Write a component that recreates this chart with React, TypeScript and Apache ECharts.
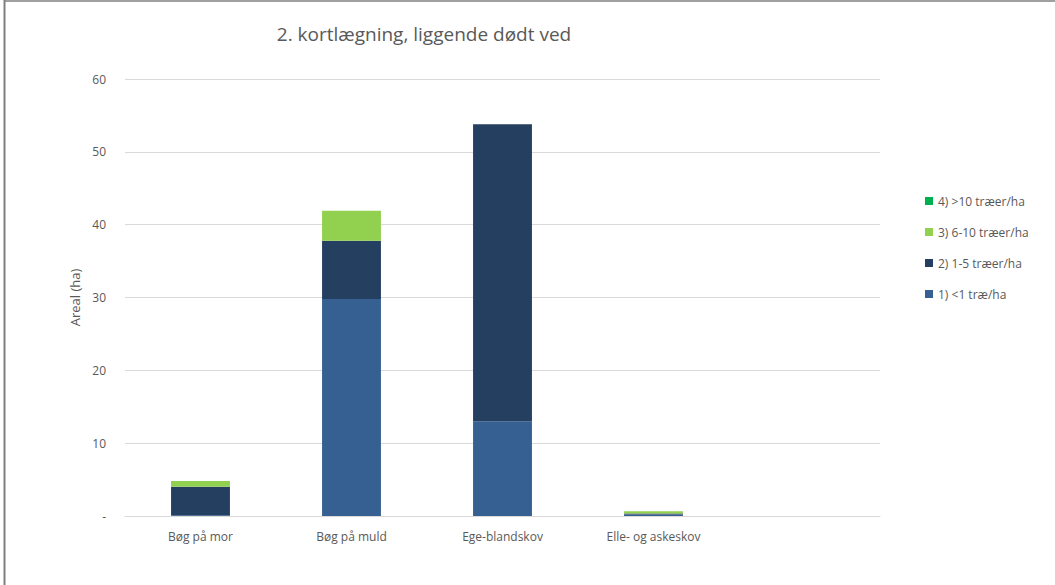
import React, { useEffect, useRef } from "react";
import * as echarts from "echarts";

const categories = ["Bøg på mor", "Bøg på muld", "Ege-blandskov", "Elle- og askeskov", ""];
const seriesNames = ["1) <1 træ/ha", "2) 1-5 træer/ha", "3) 6-10 træer/ha", "4) >10 træer/ha"];
const s1 = [0.1, 29.8, 13.0, 0.2, 0];
const s2 = [3.9, 8.0, 40.8, 0.15, 0];
const s3 = [0.8, 4.1, 0, 0.3, 0];
const s4 = [0, 0, 0, 0, 0];
const yTicks = [0, 10, 20, 30, 40, 50, 60];
const colors = ["#376092", "#243f60", "#92d050", "#00b050"];

export default function App() {
  const ref = useRef<HTMLDivElement>(null);
  useEffect(() => {
    const chart = echarts.init(ref.current!, null, { renderer: "svg" });
    const values = [s1, s2, s3, s4];
    chart.setOption({
      animation: false,
      backgroundColor: "#ffffff",
      textStyle: { fontFamily: "Open Sans" },
      title: {
        text: "2. kortlægning, liggende dødt ved",
        left: 419,
        top: 19,
        textAlign: "center",
        textStyle: { fontSize: 19, fontWeight: "normal", color: "#595959", fontFamily: "Open Sans" },
      },
      graphic: [
        { type: "line", shape: { x1: 4.5, y1: 0, x2: 4.5, y2: 585 }, style: { stroke: "#808080", lineWidth: 2 } },
        { type: "line", shape: { x1: 4, y1: 1, x2: 1055, y2: 1 }, style: { stroke: "#808080", lineWidth: 1.5 } },
      ],
      legend: {
        orient: "vertical",
        left: 920,
        top: 190,
        itemGap: 19,
        itemWidth: 8,
        itemHeight: 8,
        icon: "rect",
        data: [seriesNames[3], seriesNames[2], seriesNames[1], seriesNames[0]],
        textStyle: { fontSize: 12, color: "#595959", fontFamily: "Open Sans" },
      },
      grid: { left: 125, right: 175, top: 79, bottom: 69, containLabel: false },
      xAxis: {
        type: "category",
        data: categories,
        axisLine: { lineStyle: { color: "#d9d9d9" } },
        axisTick: { show: false },
        axisLabel: { color: "#595959", fontSize: 12, margin: 14 },
      },
      yAxis: {
        type: "value",
        min: yTicks[0],
        max: yTicks[yTicks.length - 1],
        interval: 10,
        name: "Areal (ha)",
        nameLocation: "middle",
        nameGap: 30,
        nameTextStyle: { color: "#595959", fontSize: 13 },
        axisLine: { show: false },
        axisTick: { show: false },
        splitLine: { lineStyle: { color: "#d9d9d9" } },
        axisLabel: {
          color: "#595959",
          fontSize: 12,
          margin: 19,
          formatter: (v: number) => (v === 0 ? "-" : String(v)),
        },
      },
      series: seriesNames.map((name, i) => ({
        name,
        type: "bar",
        stack: "total",
        barWidth: "39%",
        data: values[i],
        itemStyle: { color: colors[i] },
      })),
    });
    return () => chart.dispose();
  }, []);
  return <div ref={ref} style={{ position: "fixed", left: 0, top: 0, width: 1055, height: 585 }} />;
}
